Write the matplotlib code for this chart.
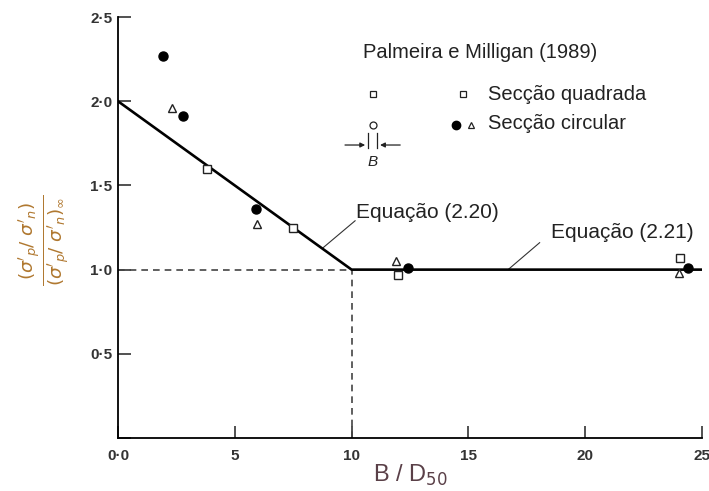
import matplotlib
matplotlib.use("Agg")
import matplotlib.pyplot as plt
from matplotlib.ticker import FuncFormatter

plt.rcParams['font.family'] = ['Liberation Sans', 'DejaVu Sans']
plt.rcParams['mathtext.fontset'] = 'dejavusans'

# data
circ_x = [1.93, 2.8, 5.9, 12.4, 24.4]          # filled circles (seccao circular)
circ_y = [2.27, 1.91, 1.36, 1.01, 1.01]
tri_x = [2.33, 5.93, 11.9, 24.0]               # open triangles (seccao circular)
tri_y = [1.96, 1.27, 1.05, 0.98]
sq_x = [3.8, 7.5, 12.0, 24.05]                 # open squares (seccao quadrada)
sq_y = [1.6, 1.25, 0.97, 1.07]

eq_x = [0, 10, 25]                              # Equacao (2.20) and (2.21)
eq_y = [2.0, 1.0, 1.0]

fig = plt.figure(figsize=(7.09, 4.91), dpi=100)
ax = fig.add_axes([0.1664, 0.1079, 0.8237, 0.8574])

# reference dashed lines
ax.plot([0, 10], [1, 1], ls=(0, (4, 3)), color='#444444', lw=1.2)
ax.plot([10, 10], [0, 1], ls=(0, (4, 3)), color='#444444', lw=1.2)

# the design line
ax.plot(eq_x, eq_y, color='black', lw=1.9, zorder=3)

ax.plot(sq_x, sq_y, 's', ms=6, mfc='white', mec='#222222', mew=1.0, clip_on=False, zorder=4)
ax.plot(tri_x, tri_y, '^', ms=6, mfc='white', mec='#222222', mew=1.0, clip_on=False, zorder=4)
ax.plot(circ_x, circ_y, 'o', ms=6.5, color='black', clip_on=False, zorder=5)

# leader lines for the equations
ax.plot([8.78, 10.15], [1.13, 1.29], color='#333333', lw=0.8)
ax.plot([16.7, 18.05], [1.0, 1.16], color='#333333', lw=0.8)
ax.text(10.2, 1.34, 'Equação (2.20)', fontsize=15, va='center', color='#222222')
ax.text(18.55, 1.22, 'Equação (2.21)', fontsize=15, va='center', color='#222222')

# legend drawn by hand, like the original figure
ax.text(10.5, 2.29, 'Palmeira e Milligan (1989)', fontsize=14.5, va='center', color='#222222')
ax.plot([10.9], [2.04], 's', ms=5, mfc='white', mec='#222222', mew=0.9)
ax.plot([10.9], [1.86], 'o', ms=5, mfc='white', mec='#222222', mew=0.9)
ax.plot([10.7, 10.7], [1.72, 1.81], color='#222222', lw=0.9)
ax.plot([11.1, 11.1], [1.72, 1.81], color='#222222', lw=0.9)
ax.annotate('', xy=(10.7, 1.74), xytext=(9.6, 1.74),
            arrowprops=dict(arrowstyle='-|>', color='#222222', lw=0.9, mutation_scale=7))
ax.annotate('', xy=(11.1, 1.74), xytext=(12.2, 1.74),
            arrowprops=dict(arrowstyle='-|>', color='#222222', lw=0.9, mutation_scale=7))
ax.text(10.9, 1.64, 'B', fontsize=11, style='italic', ha='center', va='center', color='#222222')

ax.plot([14.75], [2.04], 's', ms=5, mfc='white', mec='#222222', mew=0.9)
ax.plot([14.45], [1.86], 'o', ms=6, color='black')
ax.plot([15.1], [1.86], '^', ms=5, mfc='white', mec='#222222', mew=0.9)
ax.text(15.85, 2.04, 'Secção quadrada', fontsize=14.5, va='center', color='#222222')
ax.text(15.85, 1.87, 'Secção circular', fontsize=14.5, va='center', color='#222222')

ax.set_xlim(0, 25)
ax.set_ylim(0, 2.5)
ax.set_xticks([0, 5, 10, 15, 20, 25])
ax.set_yticks([0, 0.5, 1.0, 1.5, 2.0, 2.5])
ax.xaxis.set_major_formatter(FuncFormatter(lambda v, p: '0·0' if v == 0 else '%d' % v))
ax.yaxis.set_major_formatter(FuncFormatter(lambda v, p: '' if v == 0 else ('%.1f' % v).replace('.', '·')))
ax.tick_params(direction='in', length=9, width=1.2, color='#333333', labelsize=11,
               labelcolor='#333333')
ax.tick_params(axis='x', pad=8)
ax.tick_params(axis='y', pad=4)
for lab in ax.get_xticklabels() + ax.get_yticklabels():
    lab.set_fontweight('bold')
ax.spines['top'].set_visible(False)
ax.spines['right'].set_visible(False)
ax.spines['left'].set_linewidth(1.3)
ax.spines['bottom'].set_linewidth(1.3)

ax.set_xlabel(r'B / D$_{50}$', fontsize=17, color='#5a4048', labelpad=0)
fig.text(44 / 709, 1 - 240 / 491,
         r"$\frac{(\sigma'_p/\ \sigma'_n)}{(\sigma'_p/\ \sigma'_n)_\infty}$",
         fontsize=19, color='#b07830', rotation=90, ha='center', va='center')

fig.savefig('out.png', dpi=100)
